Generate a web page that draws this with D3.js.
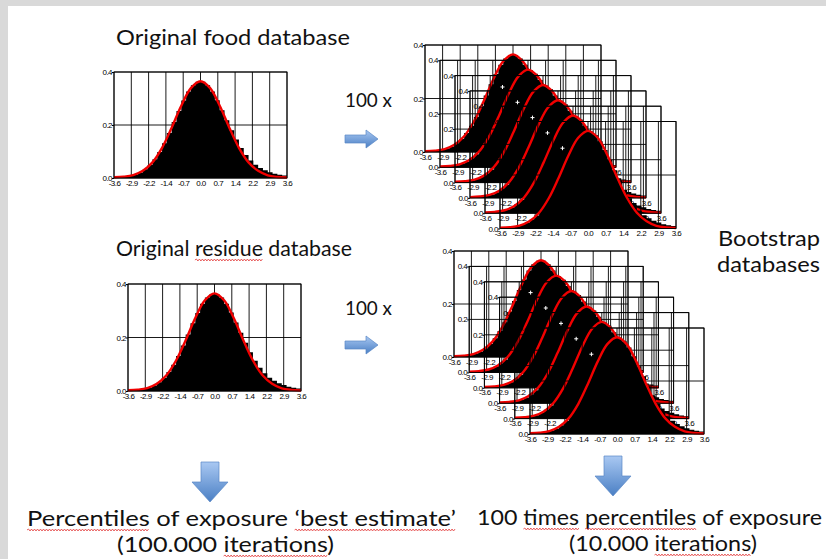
<!DOCTYPE html>
<html>
<head>
<meta charset="utf-8">
<script src="https://cdn.jsdelivr.net/npm/d3@7"></script>
<style>
  body { margin: 0; background: #d9d9d9; }
  svg { display: block; }
</style>
</head>
<body>
<div id="chart"></div>
<script>
// tick values of every small histogram (labels are these rounded to one decimal)
const xTicks = [-3.6, -2.88, -2.16, -1.44, -0.72, 0, 0.72, 1.44, 2.16, 2.88, 3.6];
const yTicks = [0, 0.2, 0.4];

// histogram bins (left edges, width 0.2) and their heights
const binLeft = [-3.6, -3.4, -3.2, -3.0, -2.8, -2.6, -2.4, -2.2, -2.0, -1.8, -1.6, -1.4,
  -1.2, -1.0, -0.8, -0.6, -0.4, -0.2, 0, 0.2, 0.4, 0.6, 0.8, 1.0,
  1.2, 1.4, 1.6, 1.8, 2.0, 2.2, 2.4, 2.6, 2.8, 3.0, 3.2, 3.4];
const binHeight = [0.002, 0.003, 0.005, 0.008, 0.013, 0.021, 0.033, 0.049, 0.071, 0.098, 0.131, 0.170,
  0.211, 0.253, 0.292, 0.326, 0.350, 0.363, 0.363, 0.350, 0.326, 0.293, 0.256, 0.218,
  0.180, 0.145, 0.113, 0.087, 0.066, 0.050, 0.038, 0.029, 0.022, 0.016, 0.012, 0.009];
const binWidth = 0.2;

// fitted density (red line)
const curveX = [-3.6, -3.2, -2.8, -2.4, -2.0, -1.6, -1.2, -0.8, -0.4, 0, 0.4, 0.8, 1.2, 1.6, 2.0, 2.4, 2.8, 3.2, 3.6];
const curveY = [0.003, 0.005, 0.011, 0.027, 0.059, 0.114, 0.190, 0.273, 0.339, 0.365, 0.339, 0.273, 0.190, 0.114, 0.059, 0.027, 0.010, 0.004, 0.002];

// little white cross seen on the bootstrap humps
const crossAt = [-0.43, 0.243];

const width = 826, height = 559;
const fontText = 'Lato, "Open Sans", sans-serif';
const fontAxis = '"Liberation Sans", Arial, sans-serif';

const svg = d3.select('#chart').append('svg')
  .attr('width', width)
  .attr('height', height);

svg.append('rect').attr('width', width).attr('height', height).attr('fill', '#d9d9d9');
svg.append('rect').attr('x', 8).attr('y', 6).attr('width', width - 8).attr('height', height - 6).attr('fill', '#fff');

const defs = svg.append('defs');
const grad = defs.append('linearGradient')
  .attr('id', 'blue').attr('x1', 0).attr('y1', 0).attr('x2', 0).attr('y2', 1);
grad.append('stop').attr('offset', '0%').attr('stop-color', '#a9c8f2');
grad.append('stop').attr('offset', '100%').attr('stop-color', '#4a7fc4');

function drawChart(g, w, h, withCross) {
  const x = d3.scaleLinear().domain([-3.6, 3.6]).range([0, w]);
  const y = d3.scaleLinear().domain([0, 0.4]).range([h, 0]);

  // grid
  g.append('g').selectAll('line').data(xTicks).join('line')
    .attr('x1', d => x(d)).attr('x2', d => x(d))
    .attr('y1', 0).attr('y2', h)
    .attr('stroke', '#000').attr('stroke-width', 0.9);
  g.append('g').selectAll('line').data(yTicks).join('line')
    .attr('x1', 0).attr('x2', w)
    .attr('y1', d => y(d)).attr('y2', d => y(d))
    .attr('stroke', '#000').attr('stroke-width', 0.9);

  // histogram as one stepped area (no seams between bars)
  const bins = binLeft.map((b, i) => ({x0: b, v: binHeight[i]}));
  bins.push({x0: binLeft[binLeft.length - 1] + binWidth, v: binHeight[binHeight.length - 1]});
  const area = d3.area()
    .x(d => x(d.x0))
    .y0(h)
    .y1(d => y(d.v))
    .curve(d3.curveStepAfter);
  g.append('path').attr('d', area(bins)).attr('fill', '#000');

  // density line
  const line = d3.line()
    .x((d, i) => x(curveX[i]))
    .y(d => y(d))
    .curve(d3.curveCatmullRom);
  g.append('path')
    .attr('d', line(curveY))
    .attr('fill', 'none')
    .attr('stroke', '#f00000')
    .attr('stroke-width', 2.4)
    .attr('stroke-linejoin', 'round');

  if (withCross) {
    const cx = x(crossAt[0]), cy = y(crossAt[1]);
    g.append('path')
      .attr('d', `M${cx - 2},${cy}H${cx + 2}M${cx},${cy - 2}V${cy + 2}`)
      .attr('stroke', '#fff').attr('stroke-width', 1);
  }

  // frame
  g.append('rect').attr('width', w).attr('height', h)
    .attr('fill', 'none').attr('stroke', '#000').attr('stroke-width', 0.9);

  // axes
  const fmt = d => d.toFixed(1);
  const xa = g.append('g').attr('transform', `translate(0,${h})`)
    .call(d3.axisBottom(x).tickValues(xTicks).tickFormat(fmt).tickSize(0).tickPadding(2));
  const ya = g.append('g')
    .call(d3.axisLeft(y).tickValues(yTicks).tickFormat(fmt).tickSize(2).tickPadding(0));
  [xa, ya].forEach(a => {
    a.select('.domain').remove();
    a.selectAll('text')
      .attr('font-family', fontAxis)
      .attr('font-size', 8)
      .attr('letter-spacing', -0.55)
      .attr('fill', '#000');
    a.selectAll('line').attr('stroke', '#000');
  });
}

// original databases
const singles = [
  {x: 114, y: 72, w: 173, h: 106},
  {x: 128, y: 284, w: 173, h: 107}
];
singles.forEach(s => {
  drawChart(svg.append('g').attr('transform', `translate(${s.x},${s.y})`), s.w, s.h, false);
});

// bootstrap stacks
const stacks = [
  {x: 425, y: 45, dx: 15, dy: 15.3, w: 176, h: 107, n: 6},
  {x: 454, y: 251, dx: 15.2, dy: 15.4, w: 174, h: 106, n: 6}
];
stacks.forEach(s => {
  d3.range(s.n).forEach(i => {
    const g = svg.append('g').attr('transform', `translate(${s.x + i * s.dx},${s.y + i * s.dy})`);
    drawChart(g, s.w, s.h, i < s.n - 1);
  });
});

// arrows
function rightArrow(x0, y0) {
  svg.append('path')
    .attr('d', `M${x0},${y0 + 5}H${x0 + 21}V${y0}L${x0 + 33},${y0 + 9}L${x0 + 21},${y0 + 18}V${y0 + 13}H${x0}Z`)
    .attr('fill', 'url(#blue)').attr('stroke', '#5a88c6').attr('stroke-width', 0.7);
}
function downArrow(cx, y0) {
  svg.append('path')
    .attr('d', `M${cx - 9},${y0}H${cx + 9}V${y0 + 20}H${cx + 18}L${cx},${y0 + 40}L${cx - 18},${y0 + 20}H${cx - 9}Z`)
    .attr('fill', 'url(#blue)').attr('stroke', '#5a88c6').attr('stroke-width', 0.7);
}
rightArrow(345, 130);
rightArrow(345, 336);
downArrow(210, 462);
downArrow(613, 456);

// texts
const texts = [
  {t: 'Original food database', x: 116, y: 45, w: 234, size: 21, wavy: []},
  {t: 'Original residue database', x: 116, y: 256, w: 236, size: 21, wavy: ['residue']},
  {t: '100 x', x: 345, y: 107, w: 47, size: 19, wavy: []},
  {t: '100 x', x: 345, y: 315, w: 47, size: 19, wavy: []},
  {t: 'Bootstrap', x: 718, y: 246, w: 102, size: 21, wavy: []},
  {t: 'databases', x: 717, y: 272, w: 103, size: 21, wavy: []},
  {t: 'Percentiles of exposure \u2018best estimate\u2019', x: 27, y: 526, w: 429, size: 22, wavy: ['Percentiles', '\u2018best estimate\u2019']},
  {t: '(100.000 iterations)', x: 117, y: 552, w: 217, size: 22, wavy: ['iterations']},
  {t: '100 times percentiles of exposure', x: 477, y: 525, w: 345, size: 22, wavy: ['times', 'percentiles']},
  {t: '(10.000 iterations)', x: 569, y: 551, w: 188, size: 22, wavy: ['iterations']}
];

function wavyPath(x0, x1, y) {
  let d = `M${x0},${y}`;
  let up = true;
  for (let xx = x0 + 1.5; xx <= x1; xx += 1.5) {
    d += `L${xx},${y + (up ? -1 : 1)}`;
    up = !up;
  }
  return d;
}

texts.forEach(s => {
  const el = svg.append('text')
    .attr('x', s.x).attr('y', s.y)
    .attr('font-family', fontText)
    .attr('font-size', s.size)
    .attr('fill', '#111')
    .text(s.t);
  const node = el.node();
  const natural = node.getComputedTextLength();
  const k = s.w / natural;
  s.wavy.forEach(word => {
    const idx = s.t.indexOf(word);
    const start = idx > 0 ? node.getSubStringLength(0, idx) : 0;
    const len = node.getSubStringLength(idx, word.length);
    svg.append('path')
      .attr('d', wavyPath(s.x + start * k, s.x + (start + len) * k, s.y + 4))
      .attr('fill', 'none')
      .attr('stroke', '#e23b3b')
      .attr('stroke-width', 0.8);
  });
  el.attr('textLength', s.w).attr('lengthAdjust', 'spacingAndGlyphs');
});
</script>
</body>
</html>
